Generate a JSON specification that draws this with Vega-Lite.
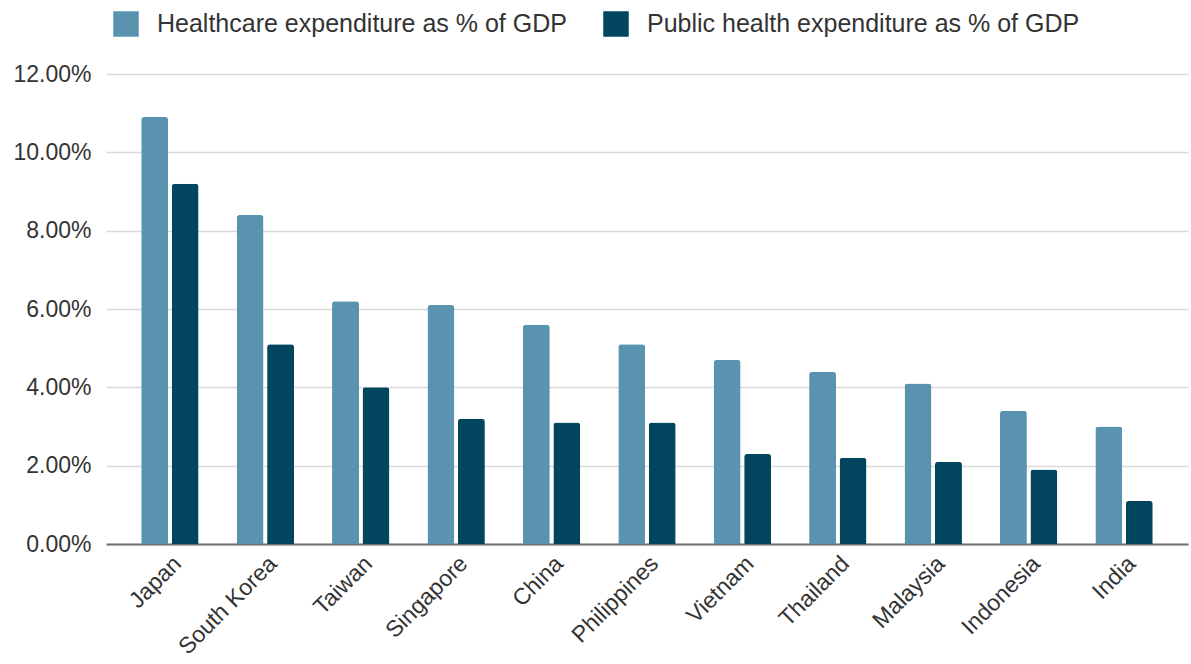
{
  "$schema": "https://vega.github.io/schema/vega-lite/v6.json",
  "width": 1082,
  "height": 470,
  "autosize": "none",
  "padding": {"left": 106, "top": 74, "right": 3, "bottom": 120},
  "background": "white",
  "config": {
    "view": {"stroke": null},
    "font": "Liberation Sans",
    "axis": {"labelFont": "Liberation Sans", "labelColor": "#333333", "labelFontSize": 23},
    "legend": {"labelFont": "Liberation Sans"}
  },
  "data": {
    "values": [
      {"country": "Japan", "series": "Healthcare expenditure as % of GDP", "value": 0.109},
      {"country": "Japan", "series": "Public health expenditure as % of GDP", "value": 0.092},
      {"country": "South Korea", "series": "Healthcare expenditure as % of GDP", "value": 0.084},
      {"country": "South Korea", "series": "Public health expenditure as % of GDP", "value": 0.051},
      {"country": "Taiwan", "series": "Healthcare expenditure as % of GDP", "value": 0.062},
      {"country": "Taiwan", "series": "Public health expenditure as % of GDP", "value": 0.040},
      {"country": "Singapore", "series": "Healthcare expenditure as % of GDP", "value": 0.061},
      {"country": "Singapore", "series": "Public health expenditure as % of GDP", "value": 0.032},
      {"country": "China", "series": "Healthcare expenditure as % of GDP", "value": 0.056},
      {"country": "China", "series": "Public health expenditure as % of GDP", "value": 0.031},
      {"country": "Philippines", "series": "Healthcare expenditure as % of GDP", "value": 0.051},
      {"country": "Philippines", "series": "Public health expenditure as % of GDP", "value": 0.031},
      {"country": "Vietnam", "series": "Healthcare expenditure as % of GDP", "value": 0.047},
      {"country": "Vietnam", "series": "Public health expenditure as % of GDP", "value": 0.023},
      {"country": "Thailand", "series": "Healthcare expenditure as % of GDP", "value": 0.044},
      {"country": "Thailand", "series": "Public health expenditure as % of GDP", "value": 0.022},
      {"country": "Malaysia", "series": "Healthcare expenditure as % of GDP", "value": 0.041},
      {"country": "Malaysia", "series": "Public health expenditure as % of GDP", "value": 0.021},
      {"country": "Indonesia", "series": "Healthcare expenditure as % of GDP", "value": 0.034},
      {"country": "Indonesia", "series": "Public health expenditure as % of GDP", "value": 0.019},
      {"country": "India", "series": "Healthcare expenditure as % of GDP", "value": 0.030},
      {"country": "India", "series": "Public health expenditure as % of GDP", "value": 0.011}
    ]
  },
  "mark": {"type": "bar", "cornerRadiusTopLeft": 3, "cornerRadiusTopRight": 3},
  "encoding": {
    "x": {
      "field": "country",
      "type": "nominal",
      "sort": null,
      "title": null,
      "scale": {"paddingInner": 0.398, "paddingOuter": 0.369},
      "axis": {
        "labelAngle": -45,
        "labelAlign": "right",
        "labelBaseline": "top",
        "labelPadding": 8,
        "ticks": false,
        "domainColor": "#6e6e6e",
        "domainWidth": 2
      }
    },
    "xOffset": {
      "field": "series",
      "type": "nominal",
      "scale": {"paddingInner": 0.115}
    },
    "y": {
      "field": "value",
      "type": "quantitative",
      "title": null,
      "scale": {"domain": [0, 0.12]},
      "axis": {
        "format": ".2%",
        "values": [0, 0.02, 0.04, 0.06, 0.08, 0.1, 0.12],
        "domain": false,
        "ticks": false,
        "labelPadding": 15,
        "gridColor": "#d9d9d9",
        "gridWidth": 1.6
      }
    },
    "color": {
      "field": "series",
      "type": "nominal",
      "title": null,
      "scale": {"range": ["#5a93b0", "#02455f"]},
      "legend": {
        "orient": "none",
        "legendX": 7,
        "legendY": -63,
        "direction": "horizontal",
        "symbolType": "square",
        "symbolSize": 650,
        "symbolStrokeWidth": 0,
        "labelFontSize": 25,
        "labelColor": "#333333",
        "labelOffset": 18,
        "columnPadding": 36,
        "labelLimit": 600
      }
    }
  }
}
